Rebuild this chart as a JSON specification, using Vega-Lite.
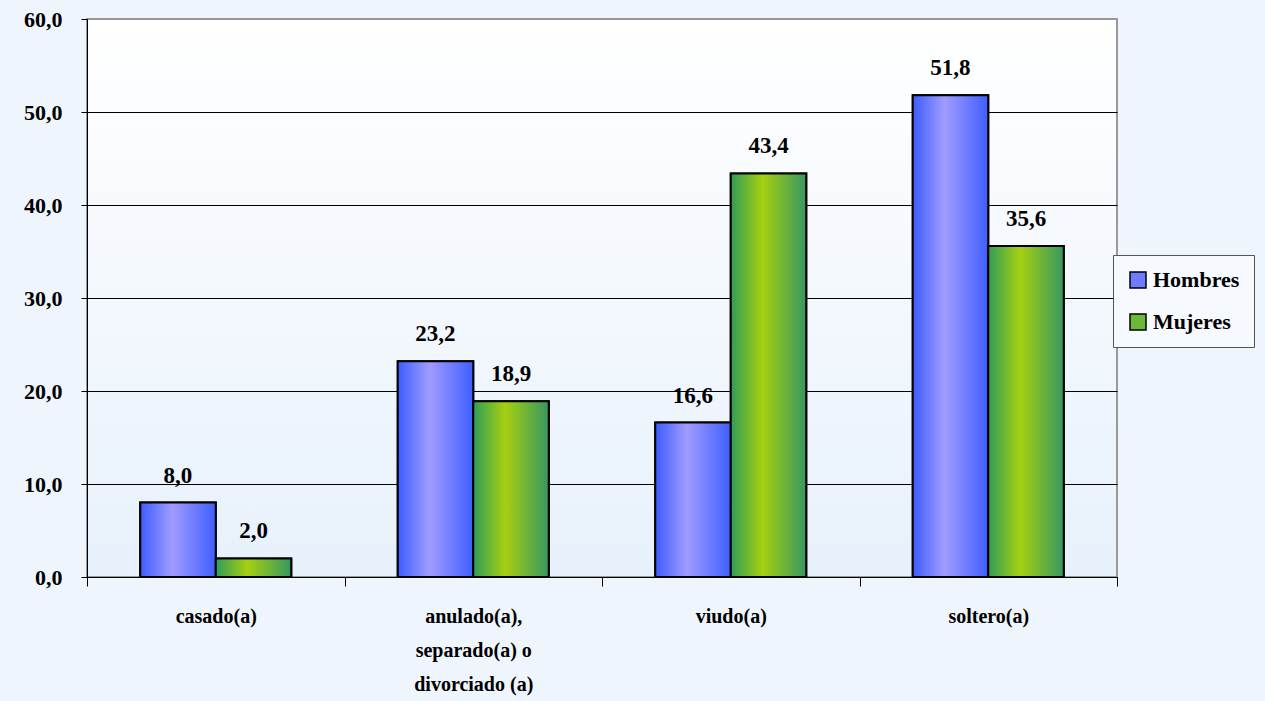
{
  "$schema": "https://vega.github.io/schema/vega-lite/v6.json",
  "width": 1030,
  "height": 558,
  "autosize": {"type": "none"},
  "padding": {"left": 87, "top": 19, "right": 148, "bottom": 124},
  "background": "#eef5fc",
  "config": {
    "locale": {"number": {"decimal": ",", "thousands": ".", "grouping": [3], "currency": ["", " €"]}},
    "view": {
      "stroke": "#999999",
      "strokeWidth": 2,
      "fill": {"gradient": "linear", "x1": 0, "y1": 0, "x2": 0, "y2": 1, "stops": [{"offset": 0, "color": "#ffffff"}, {"offset": 1, "color": "#e7f1fb"}]}
    },
    "font": "'Liberation Serif', 'DejaVu Serif', serif"
  },
  "data": {
    "values": [
      {"cat": "casado(a)", "sexo": "Hombres", "v": 8.0},
      {"cat": "casado(a)", "sexo": "Mujeres", "v": 2.0},
      {"cat": "anulado(a),|separado(a) o|divorciado (a)", "sexo": "Hombres", "v": 23.2},
      {"cat": "anulado(a),|separado(a) o|divorciado (a)", "sexo": "Mujeres", "v": 18.9},
      {"cat": "viudo(a)", "sexo": "Hombres", "v": 16.6},
      {"cat": "viudo(a)", "sexo": "Mujeres", "v": 43.4},
      {"cat": "soltero(a)", "sexo": "Hombres", "v": 51.8},
      {"cat": "soltero(a)", "sexo": "Mujeres", "v": 35.6}
    ]
  },
  "encoding": {
    "x": {
      "field": "cat", "type": "nominal", "sort": null, "title": null,
      "scale": {"paddingInner": 0, "paddingOuter": 0},
      "axis": {
        "labelAngle": 0, "labelExpr": "split(datum.label, '|')",
        "labelFont": "'Liberation Serif', 'DejaVu Serif', serif", "labelFontWeight": "bold", "labelFontSize": 20,
        "labelColor": "black", "labelLineHeight": 34, "labelPadding": 20,
        "tickBand": "extent", "tickSize": 9, "tickColor": "black", "domainColor": "black", "domainWidth": 1
      }
    },
    "xOffset": {"field": "sexo", "type": "nominal", "scale": {"domain": ["Hombres", "Mujeres"], "paddingInner": 0, "paddingOuter": 0.705}},
    "y": {
      "field": "v", "type": "quantitative", "title": null,
      "scale": {"domain": [0, 60], "nice": false},
      "axis": {
        "values": [0, 10, 20, 30, 40, 50, 60],
        "labelExpr": "replace(format(datum.value, '.1f'), '.', ',')",
        "labelFont": "'Liberation Serif', 'DejaVu Serif', serif", "labelFontWeight": "bold", "labelFontSize": 22,
        "labelColor": "black", "labelPadding": 19, "tickSize": 6, "tickColor": "black",
        "domainColor": "black", "grid": true,
        "gridColor": {"condition": {"test": "datum.value == 60", "value": "#999999"}, "value": "black"},
        "gridOpacity": 1, "gridWidth": 1
      }
    }
  },
  "layer": [
    {
      "mark": {"type": "bar", "stroke": "black", "strokeWidth": 2},
      "encoding": {
        "color": {
          "field": "sexo", "type": "nominal", "title": null,
          "scale": {"domain": ["Hombres", "Mujeres"], "range": ["#6f7cff", "#6cb83a"]},
          "legend": {
            "orient": "none", "legendX": 1026, "legendY": 236,
            "symbolType": "square", "symbolSize": 256, "symbolStrokeColor": "black", "symbolStrokeWidth": 1.5,
            "labelFont": "'Liberation Serif', 'DejaVu Serif', serif", "labelFontWeight": "bold", "labelFontSize": 22, "labelColor": "black",
            "labelOffset": 4, "rowPadding": 20, "padding": 14,
            "fillColor": "#f6f9fd", "strokeColor": "#555555"
          }
        }
      }
    },
    {
      "transform": [{"filter": "datum.sexo === 'Hombres'"}],
      "mark": {"type": "bar", "stroke": "black", "strokeWidth": 2,
        "fill": {"gradient": "linear", "x1": 0, "y1": 0, "x2": 1, "y2": 0, "stops": [{"offset": 0, "color": "#3c5cff"}, {"offset": 0.42, "color": "#a09cff"}, {"offset": 1, "color": "#3f5eff"}]}}
    },
    {
      "transform": [{"filter": "datum.sexo === 'Mujeres'"}],
      "mark": {"type": "bar", "stroke": "black", "strokeWidth": 2,
        "fill": {"gradient": "linear", "x1": 0, "y1": 0, "x2": 1, "y2": 0, "stops": [{"offset": 0, "color": "#2f9c58"}, {"offset": 0.42, "color": "#a6d010"}, {"offset": 1, "color": "#379762"}]}}
    },
    {
      "mark": {"type": "text", "fontWeight": "bold", "fontSize": 23, "font": "'Liberation Serif', 'DejaVu Serif', serif", "baseline": "alphabetic", "dy": -20, "color": "black"},
      "encoding": {
        "text": {"field": "v", "type": "quantitative", "format": ".1f"}
      }
    }
  ]
}
